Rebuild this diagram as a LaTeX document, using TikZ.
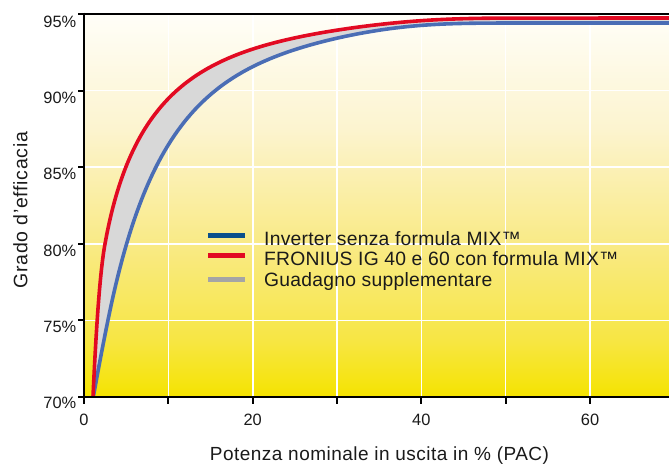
\documentclass[tikz,border=0pt]{standalone}
\usepackage{fontspec}
\setmainfont{Liberation Sans}
\definecolor{bgA}{HTML}{F5E300}
\definecolor{bgB}{HTML}{F7E644}
\definecolor{bgC}{HTML}{F9EA86}
\definecolor{bgD}{HTML}{FCF4CF}
\definecolor{bgE}{HTML}{FFFEF8}
\definecolor{redcurve}{HTML}{E20A22}
\definecolor{bluecurve}{HTML}{4A6DB5}
\definecolor{bluelegend}{HTML}{0A4F8C}
\definecolor{gainfill}{HTML}{D8D8D8}
\definecolor{gainlegend}{HTML}{A5A5A5}
\definecolor{txt}{HTML}{1A1A1A}
\pgfdeclareverticalshading{bgshade}{100bp}{color(0bp)=(bgA); color(25bp)=(bgA); color(32.5bp)=(bgB); color(45bp)=(bgC); color(60bp)=(bgD); color(75bp)=(bgE); color(100bp)=(bgE)}
\begin{document}
\begin{tikzpicture}[x=1pt,y=-1pt,
  declare function={
    rl(\t)=ln(\t-93);
    redy(\t)=18+379*exp(-(exp(-1.9919+0.5027*rl(\t)+0.01372*rl(\t)*rl(\t))+((\t-93)/330)^6));
    bl(\t)=ln(\t-93.3);
    bluey(\t)=23+374*exp(-(exp(-4.6563+1.3211*bl(\t)-0.05007*bl(\t)*bl(\t))+((\t-93.3)/313)^6));
  },
  gridline/.style={white,line width=1.6pt},
  axisline/.style={black,line width=2.8pt},
  tickline/.style={black,line width=2pt},
  curve/.style={line width=3.6pt,line join=round},
  ticklbl/.style={inner sep=0pt,text=txt,font=\fontsize{16.4}{18}\selectfont},
  legtext/.style={inner sep=0pt,text=txt,anchor=base west,font=\fontsize{19.3}{21}\selectfont\addfontfeatures{LetterSpace=1.3}},
  legline/.style={line width=5pt}]
\useasboundingbox (0,0) rectangle (669,463);
% background
\fill[shading=bgshade] (84,14) rectangle (669,397);
% grid
\foreach \x in {168.3,252.7,337,421.3,505.6,590}
  \draw[gridline] (\x,14) -- (\x,397);
\foreach \y in {90.6,167.2,243.8,320.4}
  \draw[gridline] (84,\y) -- (669,\y);
% curves
\begin{scope}
\clip (84,14) rectangle (669,397);
\fill[gainfill] (93,397) .. controls (97,309) and (101,266) .. (105,243.8)
   -- plot[domain=105:500,samples=200] (\x,{redy(\x)}) -- (680,18)
   -- (680,23) -- plot[domain=500:108,samples=200] (\x,{bluey(\x)})
   -- (108,320) .. controls (103.1,344) and (98.2,369.56) .. (93.3,397) -- cycle;
\draw[curve,bluecurve] (93.3,397) .. controls (98.2,369.56) and (103.1,344) .. (108,320)
   -- plot[domain=108:500,samples=200] (\x,{bluey(\x)}) -- (680,23);
\draw[curve,redcurve] (93,397) .. controls (97,309) and (101,266) .. (105,243.8)
   -- plot[domain=105:500,samples=200] (\x,{redy(\x)}) -- (680,18);
\end{scope}
% axes
\draw[axisline] (84,14) -- (669,14);
\draw[axisline] (84,397) -- (669,397);
\draw[axisline] (84,12.6) -- (84,398.4);
\foreach \y in {14,90.6,167.2,243.8,320.4,397}
  \draw[tickline] (78,\y) -- (84,\y);
\foreach \x in {84,168.3,252.7,337,421.3,505.6,590}
  \draw[tickline] (\x,397) -- (\x,404);
% y tick labels
\node[ticklbl,anchor=north east] (y95) at (76.5,15.5) {95\%};
\node[ticklbl,anchor=north east] (y90) at (76.5,91.5) {90\%};
\node[ticklbl,anchor=north east] (y85) at (76.5,168) {85\%};
\node[ticklbl,anchor=north east] (y80) at (76.5,244.5) {80\%};
\node[ticklbl,anchor=north east] (y75) at (76.5,321) {75\%};
\node[ticklbl,anchor=north east] (y70) at (76.5,396.5) {70\%};
% x tick labels
\node[ticklbl,anchor=north] (x0) at (84,414) {0};
\node[ticklbl,anchor=north] (x20) at (252.7,414) {20};
\node[ticklbl,anchor=north] (x40) at (421.3,414) {40};
\node[ticklbl,anchor=north] (x60) at (590,414) {60};
% titles
\node[inner sep=0pt,text=txt,anchor=base,font=\fontsize{19}{21}\selectfont\addfontfeatures{LetterSpace=2.5}] (xtitle) at (379.5,460) {Potenza nominale in uscita in \% (PAC)};
\node[inner sep=0pt,text=txt,anchor=base,rotate=90,font=\fontsize{19.5}{21}\selectfont\addfontfeatures{LetterSpace=3.5}] (ytitle) at (27.3,210) {Grado d’efficacia};
% legend
\draw[legline,bluelegend] (208,235.5) -- (245,235.5);
\draw[legline,redcurve] (208,255.5) -- (245,255.5);
\draw[legline,gainlegend] (208,279.5) -- (245,279.5);
\node[legtext] (l1) at (264,245) {Inverter senza formula MIX™};
\node[legtext] (l2) at (264,265.5) {FRONIUS IG 40 e 60 con formula MIX™};
\node[legtext] (l3) at (264,286) {Guadagno supplementare};
\end{tikzpicture}
\end{document}
